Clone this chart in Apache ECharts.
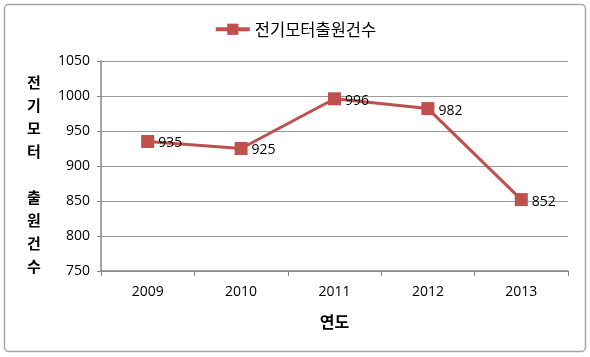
<!DOCTYPE html>
<html><head><meta charset="utf-8">
<script src="https://cdn.jsdelivr.net/npm/echarts@6/dist/echarts.min.js"></script>
<style>html,body{margin:0;padding:0;background:#fff}#c{width:590px;height:357px}</style>
</head><body><div id="c"></div>
<script>
const years = ['2009','2010','2011','2012','2013'];
const counts = [935, 925, 996, 982, 852];
const seriesName = '전기모터출원건수';
const yTitleChars = ['전','기','모','터','','출','원','건','수'];
const xTitle = '연도';
const KR = '"Noto Sans CJK KR", "Noto Sans", sans-serif';
const NUM = '"Open Sans", "Noto Sans", sans-serif';
const chart = echarts.init(document.getElementById('c'));
chart.setOption({
  animation: false,
  backgroundColor: '#fff',
  graphic: [
    {type:'rect', shape:{x:4.5,y:4.5,width:581,height:347,r:4}, style:{fill:'none', stroke:'#a6a6a6', lineWidth:1.5}, silent:true},
    {type:'text', left:27, top:71, style:{text: yTitleChars.join('\n'), font:'bold 15px '+KR, lineHeight:23, fill:'#000', align:'left'}}
  ],
  legend: {
    top: 16, left: 'center',
    itemWidth: 34, itemHeight: 14, itemGap: 4,
    textStyle: {fontFamily: KR, fontSize: 16.5, color:'#000'},
    lineStyle: {width: 4},
    data: [seriesName]
  },
  grid: {left: 101, right: 22, top: 61, bottom: 86, containLabel: false},
  xAxis: {
    type: 'category', data: years, boundaryGap: true,
    name: xTitle, nameLocation: 'middle', nameGap: 43,
    nameTextStyle: {fontFamily: KR, fontWeight: 'bold', fontSize: 16, color:'#000'},
    axisLine: {lineStyle: {color:'#868686', width: 1.5}},
    axisTick: {show: true, length: 5, lineStyle:{color:'#868686'}},
    axisLabel: {fontFamily: NUM, fontSize: 14, color:'#000', margin: 14}
  },
  yAxis: {
    type: 'value', min: 750, max: 1050, interval: 50,
    axisLine: {show: true, lineStyle: {color:'#868686', width: 1.5}},
    axisTick: {show: true, length: 4, lineStyle:{color:'#868686'}},
    axisLabel: {fontFamily: NUM, fontSize: 14, color:'#000', margin: 11, formatter: v => String(v)},
    splitLine: {lineStyle: {color:'#9a9a9a', width: 1.2}}
  },
  series: [{
    name: seriesName, type: 'line', data: counts,
    symbol: 'rect', symbolSize: 13,
    lineStyle: {color:'#C0504D', width: 3},
    itemStyle: {color:'#C0504D'},
    label: {show: true, position: 'right', distance: 4, offset:[0,2], fontFamily: NUM, fontSize: 14, color:'#000'}
  }]
});
</script></body></html>
